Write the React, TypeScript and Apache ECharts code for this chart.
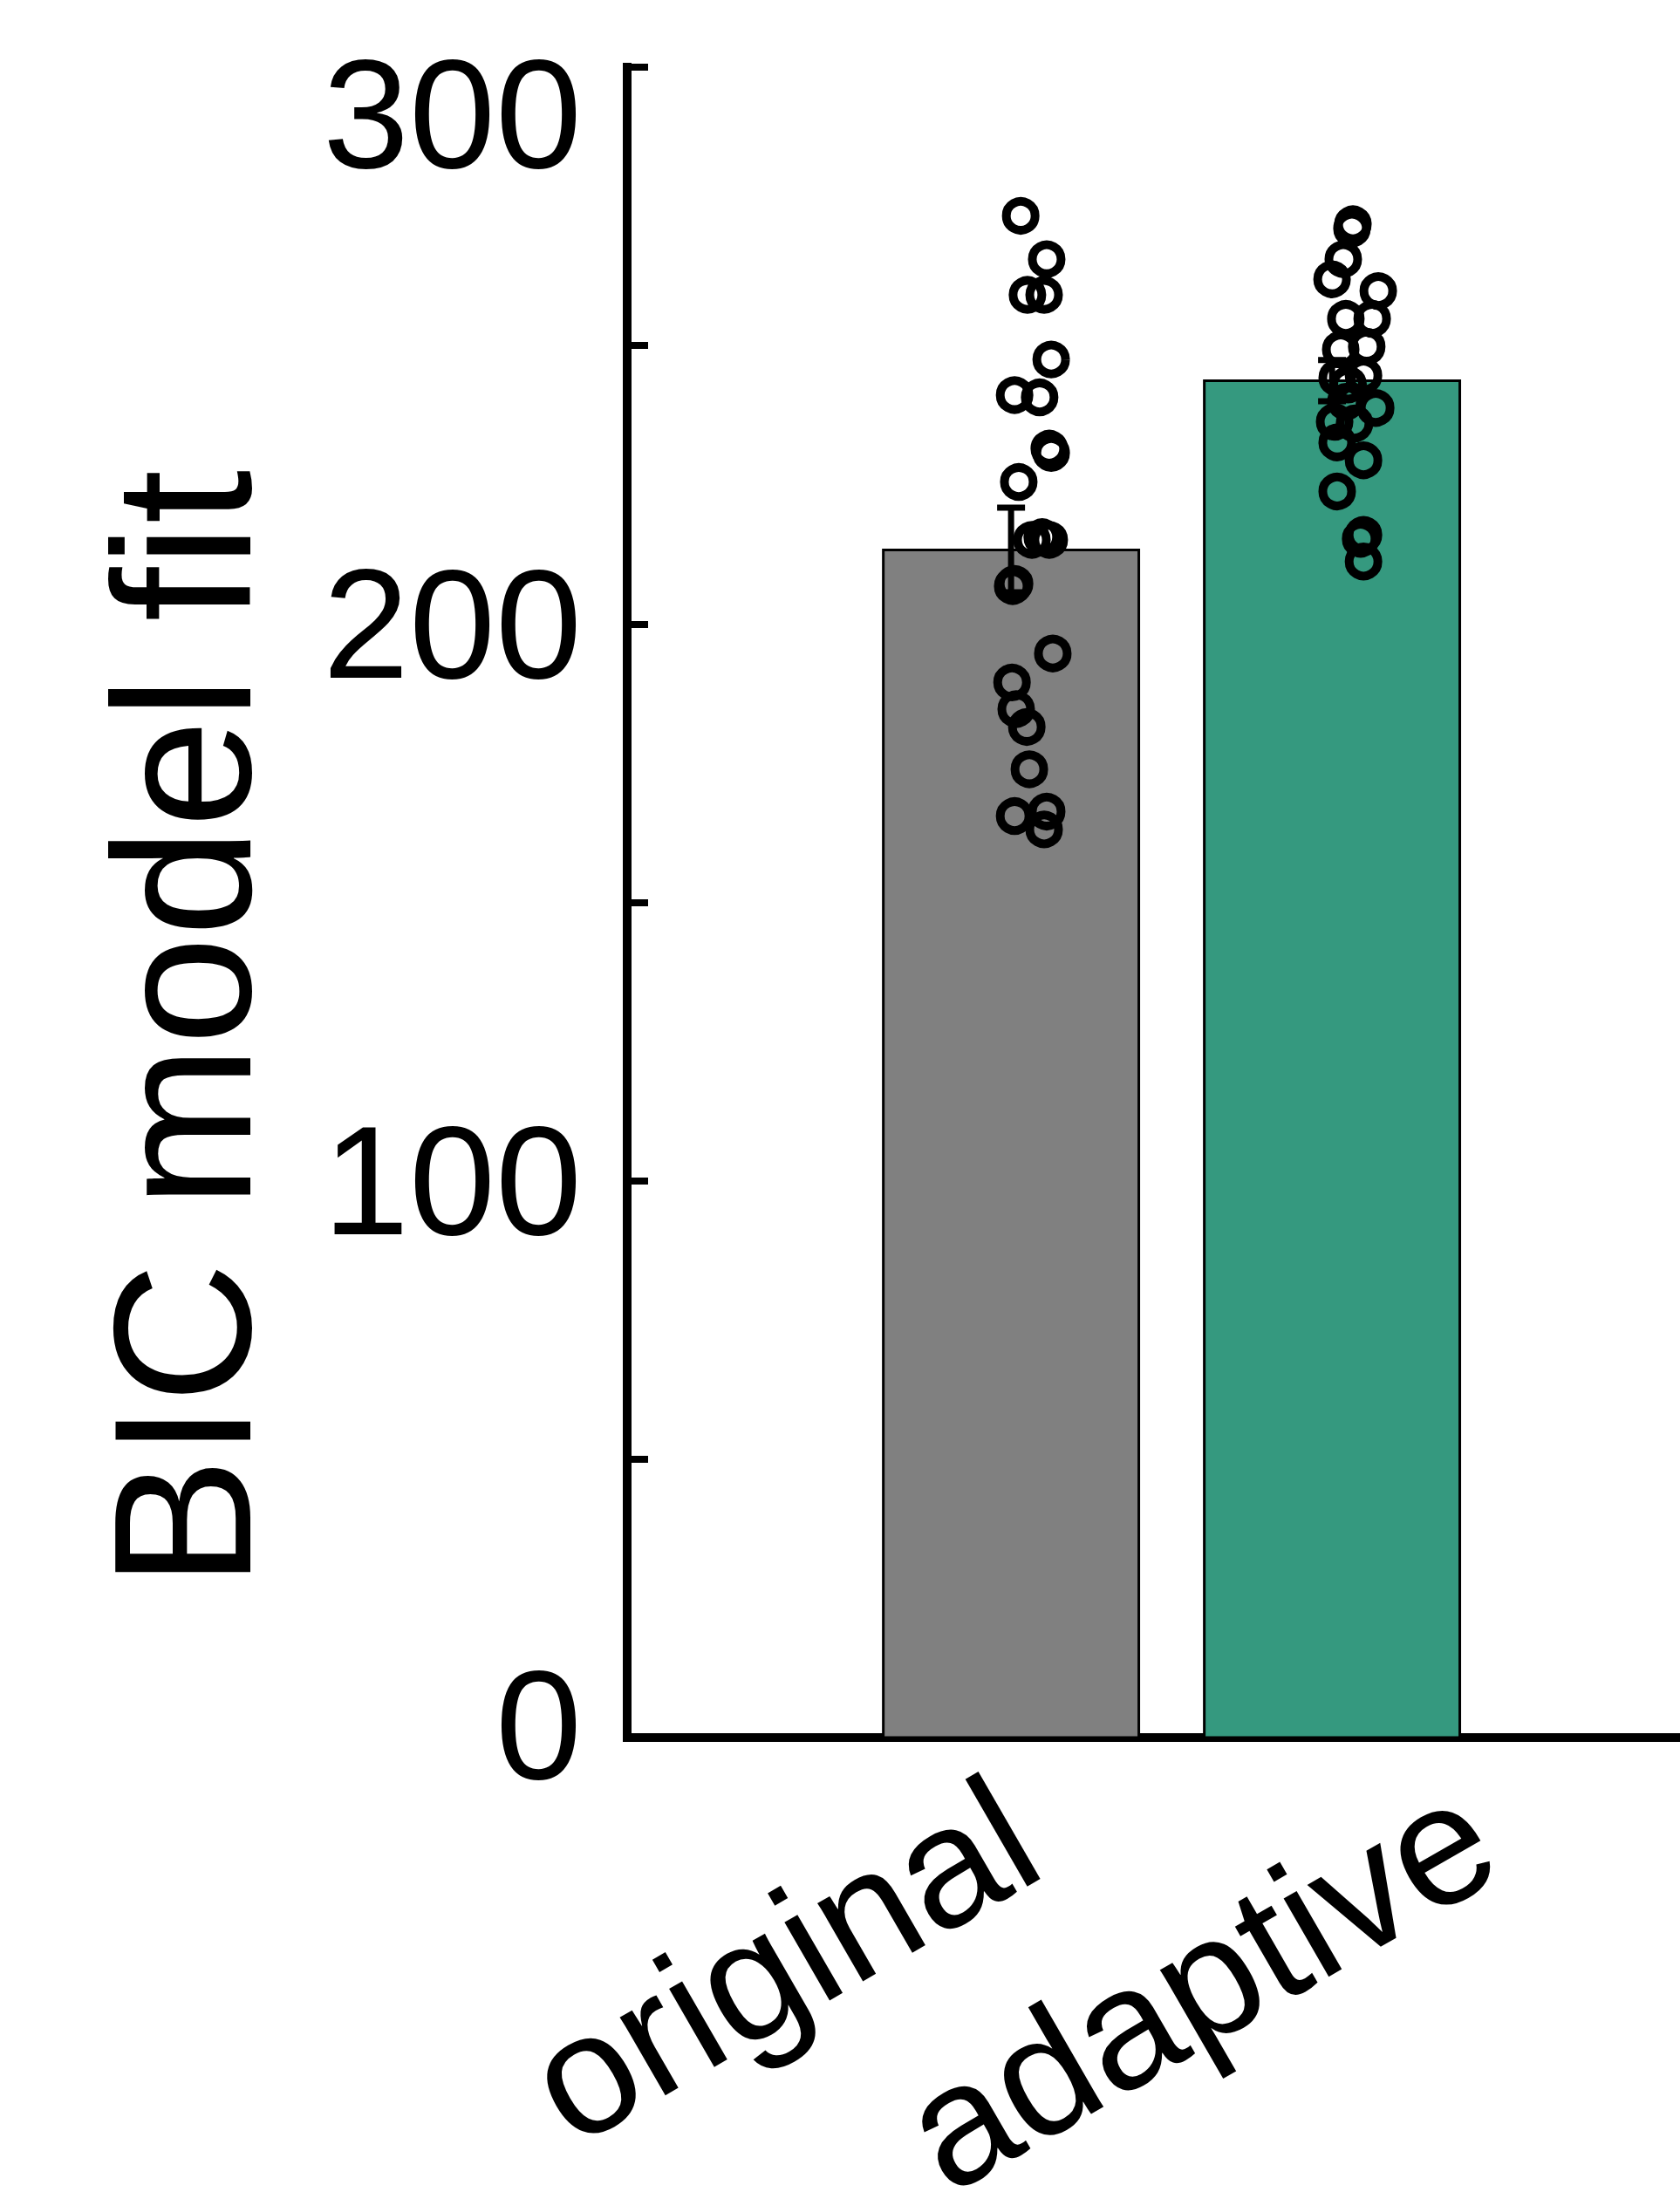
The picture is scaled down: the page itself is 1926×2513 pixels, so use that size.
import React, { useEffect, useRef } from 'react';
import * as echarts from 'echarts';

// ---- data ----
const categories = ['original', 'adaptive'];
const catPos = [1, 2];
const barMeans = [213.3, 243.7];
const barErrors = [7.6, 3.7];

const originalValues = [273.3, 265.5, 259.1, 259.1, 247.5, 241.1, 240.7, 230.7, 231.5, 225.5, 215.1, 215.6, 215.1, 207.2, 206.8, 194.7, 189.5, 184.7, 181.5, 173.9, 165.5, 166.3, 163.1];
const originalJitter = [0.030, 0.111, 0.051, 0.103, 0.125, 0.011, 0.089, 0.125, 0.119, 0.024, 0.065, 0.097, 0.119, 0.011, 0.005, 0.130, 0.003, 0.016, 0.049, 0.057, 0.011, 0.111, 0.103];

const adaptiveValues = [271.0, 271.8, 265.5, 261.9, 259.8, 254.8, 254.8, 249.3, 249.8, 244.6, 244.2, 243.0, 239.9, 238.8, 236.3, 236.0, 232.6, 229.4, 223.8, 215.3, 216.0, 211.2];
const adaptiveJitter = [0.062, 0.065, 0.035, 0.000, 0.144, 0.043, 0.125, 0.027, 0.108, 0.098, 0.016, 0.050, 0.043, 0.136, 0.008, 0.070, 0.016, 0.098, 0.016, 0.089, 0.098, 0.098];

const yTickLabels = [0, 100, 200, 300];

// ---- layout / style ----
const labelAnchors = [1.03, 2.457];
const barColors = ['#808080', '#35997F'];
const FONT = '"Liberation Sans", Arial, Helvetica, sans-serif';

export default function App() {
  const ref = useRef<HTMLDivElement>(null);

  useEffect(() => {
    if (!ref.current) return;
    const chart = echarts.init(ref.current, null, { renderer: 'svg' });

    const option: any = {
      animation: false,
      backgroundColor: '#ffffff',
      grid: { left: 719, right: 0, top: 77, bottom: 521, outerBoundsMode: 'none', containLabel: false },
      xAxis: {
        type: 'value',
        min: -0.196,
        max: 3.084,
        splitLine: { show: false },
        axisLine: { show: true, onZero: false, lineStyle: { color: '#000', width: 10, cap: 'square' } },
        axisTick: { show: true, inside: true, length: 25, customValues: catPos, lineStyle: { color: '#000', width: 8 } },
        axisLabel: {
          show: true,
          customValues: labelAnchors,
          rotate: 30,
          margin: 97,
          fontSize: 196,
          fontFamily: FONT,
          color: '#000',
          formatter: (v: number) => {
            const i = labelAnchors.findIndex((a) => Math.abs(a - v) < 1e-6);
            return i >= 0 ? categories[i] : '';
          },
        },
      },
      yAxis: {
        type: 'value',
        min: 0,
        max: 300,
        interval: 50,
        splitLine: { show: false },
        name: 'BIC model fit',
        nameLocation: 'middle',
        nameRotate: 90,
        nameGap: 398,
        nameTextStyle: { fontSize: 224, fontFamily: FONT, color: '#000', padding: [0, 290, 0, 0] },
        axisLine: { show: true, onZero: false, lineStyle: { color: '#000', width: 10, cap: 'square' } },
        axisTick: { show: true, inside: true, length: 24, lineStyle: { color: '#000', width: 8 } },
        axisLabel: {
          margin: 52,
          fontSize: 178,
          fontFamily: FONT,
          color: '#000',
          formatter: (v: number) => {
            if (!yTickLabels.includes(v)) return '';
            if (v === yTickLabels[yTickLabels.length - 1]) return '{top|' + v + '}';
            if (v === yTickLabels[0]) return '{bot|' + v + '}';
            return String(v);
          },
          rich: {
            top: { fontSize: 178, fontFamily: FONT, color: '#000', padding: [106, 0, 0, 0] },
            bot: { fontSize: 178, fontFamily: FONT, color: '#000', padding: [0, 0, 30, 0] },
          },
        },
      },
      series: [
        {
          type: 'custom',
          name: 'bars',
          data: catPos.map((p, i) => [p, barMeans[i], i]),
          encode: { x: 0, y: 1 },
          renderItem: (params: any, api: any) => {
            const x = api.value(0);
            const v = api.value(1);
            const idx = api.value(2);
            const p0 = api.coord([x - 0.398, v]);
            const p1 = api.coord([x + 0.398, 0]);
            return {
              type: 'rect',
              shape: { x: p0[0], y: p0[1], width: p1[0] - p0[0], height: p1[1] - p0[1] },
              style: { fill: barColors[idx], stroke: '#000', lineWidth: 3 },
            };
          },
        },
        {
          type: 'custom',
          name: 'errors',
          data: catPos.map((p, i) => [p, barMeans[i], barErrors[i]]),
          encode: { x: 0, y: 1 },
          renderItem: (params: any, api: any) => {
            const x = api.value(0);
            const v = api.value(1);
            const e = api.value(2);
            const top = api.coord([x, v + e]);
            const bot = api.coord([x, v - e]);
            const cap = 16;
            const st = { stroke: '#000', lineWidth: 7 };
            return {
              type: 'group',
              children: [
                { type: 'line', shape: { x1: top[0], y1: top[1], x2: bot[0], y2: bot[1] }, style: st },
                { type: 'line', shape: { x1: top[0] - cap, y1: top[1], x2: top[0] + cap, y2: top[1] }, style: st },
                { type: 'line', shape: { x1: bot[0] - cap, y1: bot[1], x2: bot[0] + cap, y2: bot[1] }, style: st },
              ],
            };
          },
        },
        {
          type: 'scatter',
          name: categories[0],
          data: originalValues.map((v, i) => [catPos[0] + originalJitter[i], v]),
          symbol: 'circle',
          symbolSize: 33,
          itemStyle: { color: 'rgba(0,0,0,0)', borderColor: '#000', borderWidth: 10, opacity: 1 },
        },
        {
          type: 'scatter',
          name: categories[1],
          data: adaptiveValues.map((v, i) => [catPos[1] + adaptiveJitter[i], v]),
          symbol: 'circle',
          symbolSize: 33,
          itemStyle: { color: 'rgba(0,0,0,0)', borderColor: '#000', borderWidth: 10, opacity: 1 },
        },
      ],
    };

    chart.setOption(option);
    return () => chart.dispose();
  }, []);

  return (
    <div
      ref={ref}
      style={{ position: 'absolute', left: 0, top: 0, width: 1926, height: 2513, background: '#fff' }}
    />
  );
}
